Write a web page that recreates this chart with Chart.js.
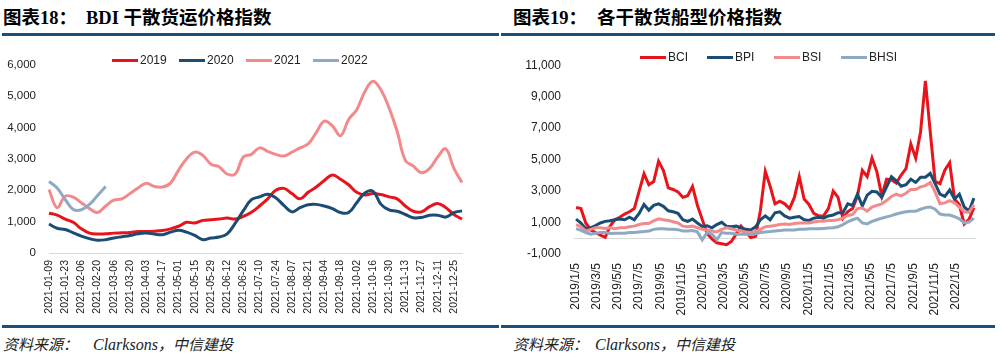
<!DOCTYPE html>
<html><head><meta charset="utf-8">
<script src="https://cdn.jsdelivr.net/npm/chart.js@4.4.1/dist/chart.umd.min.js"></script>
<style>
html,body{margin:0;padding:0;background:#fff;}
body{width:1004px;height:359px;position:relative;overflow:hidden;font-family:"Liberation Sans",Arial,sans-serif;}
.t{position:absolute;top:8px;font-family:"Liberation Serif","Noto Sans CJK SC",serif;font-weight:bold;font-size:18.5px;line-height:20px;color:#000;white-space:nowrap;}
.rule{position:absolute;height:3px;background:#1d4e78;}
.src{position:absolute;top:335px;font-family:"Liberation Serif","Noto Sans CJK SC",serif;font-style:italic;font-size:16px;line-height:18px;color:#222;white-space:nowrap;}
.src .c{font-family:"Noto Sans CJK SC",sans-serif;font-size:15px;}
canvas{position:absolute;}
.lg{position:absolute;height:14px;font-size:12px;line-height:14px;color:#222;white-space:nowrap;}
.lg span.sw{position:absolute;left:0;top:5.5px;width:26px;height:3px;}
.lg span.tx{position:absolute;left:28px;top:0;}
</style></head>
<body>
<div class="t" style="left:3px">图表18：</div>
<div class="t" style="left:86px">BDI 干散货运价格指数</div>
<div class="rule" style="left:2px;width:497px;top:33px"></div>
<div class="t" style="left:513px">图表19：</div>
<div class="t" style="left:597px">各干散货船型价格指数</div>
<div class="rule" style="left:501px;width:494px;top:33px"></div>

<canvas id="cL" width="500" height="277" style="left:0;top:45px"></canvas>
<canvas id="cR" width="504" height="277" style="left:500px;top:45px"></canvas>

<div class="rule" style="left:2px;width:497px;top:325px"></div>
<div class="rule" style="left:501px;width:494px;top:325px"></div>
<div class="src" style="left:3px"><span class="c">资料来源：</span></div>
<div class="src" style="left:93px">Clarksons<span class="c">，中信建投</span></div>
<div class="src" style="left:513px"><span class="c">资料来源：</span></div>
<div class="src" style="left:595px">Clarksons<span class="c">，中信建投</span></div>

<script>
// ---------- Left chart: BDI by year (weekly, 2021 calendar) ----------
const bdiWeeks = ['2021-01-09','2021-01-16','2021-01-23','2021-01-30','2021-02-06','2021-02-13','2021-02-20','2021-02-27',
 '2021-03-06','2021-03-13','2021-03-20','2021-03-27','2021-04-03','2021-04-10','2021-04-17','2021-04-24',
 '2021-05-01','2021-05-08','2021-05-15','2021-05-22','2021-05-29','2021-06-05','2021-06-12','2021-06-19','2021-06-26',
 '2021-07-03','2021-07-10','2021-07-17','2021-07-24','2021-07-31','2021-08-07','2021-08-14','2021-08-21','2021-08-28',
 '2021-09-04','2021-09-11','2021-09-18','2021-09-25','2021-10-02','2021-10-09','2021-10-16','2021-10-23','2021-10-30',
 '2021-11-06','2021-11-13','2021-11-20','2021-11-27','2021-12-04','2021-12-11','2021-12-18','2021-12-25','2022-01-01'];
const bdi2019 = [1270,1207,1082,978,770,634,603,613,634,645,655,686,686,697,718,770,853,978,957,1040,1061,1082,1113,1082,1166,
 1300,1499,1728,1999,2061,1895,1728,1937,2103,2312,2489,2353,2176,1937,1853,1895,1863,1791,1728,1499,1332,1312,1478,1582,1447,1228,1082];
const bdi2020 = [926,790,749,645,540,457,405,426,478,520,561,613,634,603,582,665,728,665,561,426,478,509,613,950,1350,
 1700,1791,1874,1759,1520,1312,1447,1541,1551,1499,1416,1291,1291,1603,1916,1968,1551,1374,1332,1228,1124,1134,1207,1207,1145,1291,1343];
const bdi2021 = [2020,1447,1812,1780,1603,1416,1291,1499,1687,1728,1895,2072,2228,2124,2103,2228,2645,3010,3218,3114,2833,2749,2520,2520,3062,
 3145,3354,3239,3145,3093,3218,3354,3479,3843,4208,4052,3739,4260,4573,5146,5479,5198,4625,3874,2958,2770,2562,2697,3062,3322,2697,2249];
const bdi2022 = [2280,2072,1707,1390,1380,1551,1832,2124];
const bdiNames = ['2019','2020','2021','2022'];
const bdiColors = ['#e8141b','#1a4c74','#f28a8c','#8eaac2'];
const bdiYTicks = {min:0, max:6000, step:1000};

// ---------- Right chart: dry bulk indices by ship type (bi-weekly samples) ----------
const sampleStart = '2019-01-05';
const sampleStepDays = 14;
const bci = [1950,1886,973,527,364,202,60,770,1176,1338,
 1541,1683,1886,3000,4100,3400,3600,4900,4300,3200,
 3100,2950,2600,2700,3300,2100,1200,300,-42,-285,
 -346,-407,-204,263,770,405,39,120,1785,4250,
 3307,2190,2353,2190,1886,2597,3916,2495,2150,1582,
 1420,1420,1886,3003,2597,1277,1700,1886,2698,4322,
 3916,5100,4221,2698,3754,3713,3510,4018,4424,5987,
 5093,6758,10000,6758,3612,3470,4322,4800,2495,2129,
 900,1200,1950];
const bpi = [1217,973,608,668,810,973,1074,1114,1176,1217,
 1176,1338,1176,1582,2150,1785,2089,2190,2028,1744,
 1683,1582,1176,1074,1217,973,750,800,668,871,
 1013,770,729,770,668,567,527,729,1176,1420,
 1176,1622,1683,1420,1277,1338,1379,1176,1135,1277,
 1338,1277,1420,1480,1622,1622,2190,2089,2800,2048,
 2738,2982,2942,2597,3266,3916,3652,3307,3408,3754,
 3550,3875,3875,4119,3470,2800,2657,3063,2495,2800,
 1988,1724,2550];
const bsi = [872,729,465,567,668,668,628,668,608,668,
 668,729,770,872,932,932,1114,1237,1176,1135,
 1054,973,770,729,770,668,567,527,465,405,
 567,668,608,527,465,405,364,425,567,729,
 770,810,872,912,872,932,973,973,973,1034,
 1074,1074,1135,1135,1176,1277,1450,1520,1886,1927,
 1724,1988,2089,2190,2393,2657,2800,2698,2860,3104,
 3104,3266,3348,3551,2942,2190,2251,2393,2251,1988,
 1683,1643,2129];
const bhsi = [608,506,364,263,324,364,364,303,324,324,
 324,364,364,405,425,465,567,608,608,567,
 567,547,465,465,486,405,-100,364,263,-100,
 364,324,324,263,263,263,242,283,364,405,
 425,465,486,527,527,527,567,567,608,608,
 608,628,648,668,729,872,1050,1176,1277,973,
 912,1074,1176,1277,1358,1440,1540,1622,1683,1724,
 1724,1845,1947,1988,1845,1540,1480,1480,1378,1237,
 973,1034,1277];
const typeNames = ['BCI','BPI','BSI','BHSI'];
const typeColors = ['#e8141b','#1a4c74','#f28a8c','#8eaac2'];
const typeXTicks = ['2019/1/5','2019/3/5','2019/5/5','2019/7/5','2019/9/5','2019/11/5','2020/1/5','2020/3/5','2020/5/5',
 '2020/7/5','2020/9/5','2020/11/5','2021/1/5','2021/3/5','2021/5/5','2021/7/5','2021/9/5','2021/11/5','2022/1/5'];
const typeYTicks = {min:-1000, max:11000, step:2000};

// ---------- helpers ----------
const DAY = 86400000;
function ymdToUTC(s){const p=s.split(/[-\/]/).map(Number);return Date.UTC(p[0],p[1]-1,p[2]);}
const base = ymdToUTC(sampleStart);
function dayOf(s){return Math.round((ymdToUTC(s)-base)/DAY);}
const tickDays = typeXTicks.map(dayOf);
const fmt = v => Number(v).toLocaleString('en-US');
const tickColor = '#222';

function legend(x, y, names, colors){
  names.forEach((n,i)=>{
    const d=document.createElement('div');
    d.className='lg'; d.style.left=(x+i*67)+'px'; d.style.top=(y-7)+'px';
    d.innerHTML='<span class="sw" style="background:'+colors[i]+'"></span><span class="tx">'+n+'</span>';
    document.body.appendChild(d);
  });
}

// ---------- left chart ----------
const bdiData = [bdi2019, bdi2020, bdi2021, bdi2022];
new Chart(document.getElementById('cL'), {
  type:'line',
  data:{labels:bdiWeeks, datasets: bdiData.map((vals,i)=>({label:bdiNames[i], data:vals, borderColor:bdiColors[i],
        borderWidth:3, pointRadius:0, tension:0.4, fill:false, order:3-i}))},
  options:{responsive:false, animation:false, events:[],
    layout:{padding:{left:2,right:38,top:16,bottom:0}},
    plugins:{legend:{display:false}, tooltip:{enabled:false}},
    scales:{
      x:{type:'category', offset:false, grid:{display:false, drawTicks:false},
         border:{display:true, color:'#d9d9d9', width:1},
         ticks:{autoSkip:false, minRotation:90, maxRotation:90, padding:7, color:tickColor,
                font:{family:'Liberation Sans', size:10.5},
                callback:function(v,i){return i%2===0 ? this.getLabelForValue(v) : '';}},
         afterFit:s=>{s.height=69;}},
      y:{min:bdiYTicks.min, max:bdiYTicks.max, grid:{display:false, drawTicks:false}, border:{display:false},
         ticks:{stepSize:bdiYTicks.step, padding:13, color:tickColor, font:{family:'Liberation Sans', size:11.5}, callback:fmt},
         afterFit:s=>{s.width=47;}}
    }}
});
legend(112, 60, bdiNames, bdiColors);

// ---------- right chart ----------
const zeroLine = {id:'zeroLine', beforeDatasetsDraw(chart){
  const {ctx, chartArea:a, scales:{y}} = chart;
  const py = Math.round(y.getPixelForValue(0)) + 0.5;
  ctx.save(); ctx.strokeStyle='#d9d9d9'; ctx.lineWidth=1;
  ctx.beginPath(); ctx.moveTo(a.left,py); ctx.lineTo(a.right,py); ctx.stroke(); ctx.restore();
}};
const typeData = [bci, bpi, bsi, bhsi];
new Chart(document.getElementById('cR'), {
  type:'line',
  data:{datasets: typeData.map((vals,i)=>({label:typeNames[i],
        data:vals.map((v,k)=>({x:k*sampleStepDays, y:v})), borderColor:typeColors[i],
        borderWidth:3, pointRadius:0, tension:0, fill:false, order:3-i}))},
  options:{responsive:false, animation:false, events:[],
    layout:{padding:{left:2,right:28,top:12,bottom:0}},
    plugins:{legend:{display:false}, tooltip:{enabled:false}},
    scales:{
      x:{type:'linear', min:-6, max:1154, grid:{display:false, drawTicks:false}, border:{display:false},
         afterBuildTicks:s=>{s.ticks = tickDays.map(v=>({value:v}));},
         ticks:{autoSkip:false, minRotation:90, maxRotation:90, padding:9, color:tickColor,
                font:{family:'Liberation Sans', size:12},
                callback:v=>{const i=tickDays.indexOf(v);return i>=0?typeXTicks[i]:'';}},
         afterFit:s=>{s.height=68;}},
      y:{min:typeYTicks.min, max:typeYTicks.max, grid:{display:false, drawTicks:false}, border:{display:false},
         ticks:{stepSize:typeYTicks.step, padding:13, color:tickColor, font:{family:'Liberation Sans', size:12}, callback:fmt},
         afterFit:s=>{s.width=72;}}
    }},
  plugins:[zeroLine]
});
legend(640, 57, typeNames, typeColors);
</script>
</body></html>
